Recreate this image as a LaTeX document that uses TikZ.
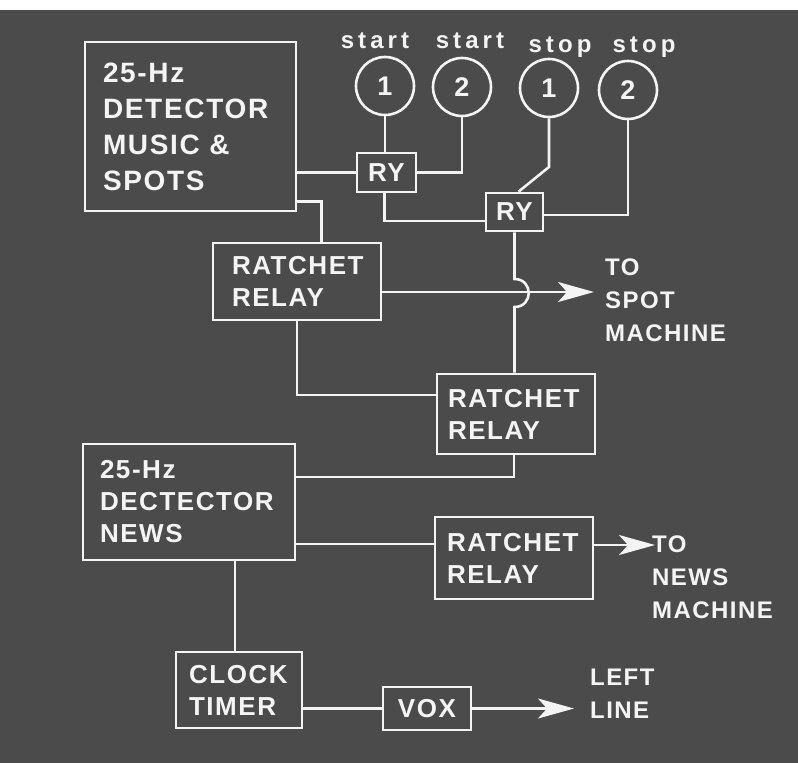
\documentclass[tikz,border=0pt]{standalone}
\usepackage{fontspec}
\setmainfont{Liberation Sans}[LetterSpace=6]
\newfontfamily\lowfont{Liberation Sans}[LetterSpace=17]
\usetikzlibrary{arrows.meta,calc}
\definecolor{bg}{HTML}{4B4B4B}
\definecolor{fg}{HTML}{F4F4F4}
\begin{document}
\begin{tikzpicture}[x=1pt,y=-1pt,
  wire/.style={draw=fg,line width=2.6pt},
  box/.style={draw=fg,line width=2.6pt,align=left,inner ysep=0pt,text=fg,
    font=\bfseries\fontsize{26}{32}\selectfont},
  rybox/.style={draw=fg,line width=2.6pt,inner sep=0pt,text=fg,
    font=\bfseries\fontsize{26}{32}\selectfont},
  knob/.style={draw=fg,line width=2.6pt,circle,minimum size=58pt,inner sep=0pt,text=fg,
    font=\bfseries\fontsize{27}{32}\selectfont},
  toplabel/.style={text=fg,anchor=base,font=\lowfont\bfseries\fontsize{24}{28}\selectfont},
  outlabel/.style={text=fg,align=left,anchor=west,inner sep=0pt,
    font=\bfseries\fontsize{24}{33}\selectfont},
  arr/.style={wire,-{Stealth[length=36pt,width=20pt,inset=9pt]}}]
\useasboundingbox (0,0) rectangle (798,763);
\fill[white] (0,0) rectangle (798,763);
\fill[bg] (0,10) rectangle (798,763);

% boxes
\node[box,font=\bfseries\fontsize{28}{36}\selectfont,inner xsep=18pt,text width=175pt,minimum height=169pt] (det1) at (190.5,126.5) {25-Hz\\DETECTOR\\MUSIC \&\\SPOTS};
\node[rybox,minimum width=59pt,minimum height=39pt] (ry1) at (386.5,172.5) {RY};
\node[rybox,minimum width=57pt,minimum height=38pt] (ry2) at (514.5,212) {RY};
\node[box,inner xsep=19pt,text width=130pt,minimum height=77pt] (rr1) at (297,281.5) {RATCHET\\RELAY};
\node[box,inner xsep=11pt,text width=136pt,minimum height=80pt] (rr2) at (516,414) {RATCHET\\RELAY};
\node[box,inner xsep=17pt,text width=178pt,minimum height=116pt] (det2) at (189,502) {25-Hz\\DECTECTOR\\NEWS};
\node[box,inner xsep=12pt,text width=134pt,minimum height=82pt] (rr3) at (514,558) {RATCHET\\RELAY};
\node[box,inner xsep=13pt,text width=100pt,minimum height=76pt] (clock) at (239,690) {CLOCK\\TIMER};
\node[rybox,minimum width=88pt,minimum height=43pt] (vox) at (427,708.5) {VOX};

% start/stop buttons
\node[knob] (c1) at (385,86) {1};
\node[knob] (c2) at (462,87) {2};
\node[knob] (c3) at (549,88) {1};
\node[knob] (c4) at (628,90) {2};
\node[toplabel] (l1) at (375,48) {start};
\node[toplabel] (l2) at (470,48) {start};
\node[toplabel] (l3) at (560,52) {stop};
\node[toplabel] (l4) at (644,52) {stop};

% output labels
\node[outlabel,anchor=north west] (spot) at (605,259) {TO\\SPOT\\MACHINE};
\node[outlabel,anchor=north west] (news) at (652,536) {TO\\NEWS\\MACHINE};
\node[outlabel,anchor=north west] (left) at (590,669) {LEFT\\LINE};

\coordinate (c3bend) at (549,167);
\coordinate (j1) at (514.5,279);
\coordinate (j2) at (514.5,307);
\coordinate (spottip) at (594,292);
\coordinate (newstip) at (655,545);
\coordinate (lefttip) at (574,708.5);
\coordinate (cj) at ($(clock.north)+(-4,0)$);

% wires
\draw[wire] (c1.south) -- (c1.south |- ry1.north);
\draw[wire] (c2.south) |- (ry1.east);
\draw[wire] (det1.east |- ry1.west) -- (ry1.west);
\draw[wire] (c3.south) -- (c3bend) -- ($(ry2.north)+(4,0)$);
\draw[wire] (c4.south) |- ($(ry2.east)+(0,3)$);
\draw[wire] ($(ry1.south)+(-2,0)$) |- ($(ry2.west)+(0,9)$);
\draw[wire] ($(det1.south east)+(0,-11)$) -| ($(rr1.north west)+(110,0)$);
\draw[arr] ($(rr1.east)+(0,10.5)$) -- (spottip);
\draw[wire] (ry2.south) -- (j1) .. controls +(19,0) and +(19,0) .. (j2) -- (j2 |- rr2.north);
\draw[wire] (rr1.south) |- ($(rr2.west)+(0,-19)$);
\draw[wire] ($(det2.east)+(0,-25)$) -| ($(rr2.south)+(-2,0)$);
\draw[wire] ($(det2.east)+(0,42)$) -- ($(rr3.west)+(0,-14)$);
\draw[arr] ($(rr3.east)+(0,-13)$) -- (newstip);
\draw[wire] (cj) -- (cj |- det2.south);
\draw[wire] (clock.east |- vox.west) -- (vox.west);
\draw[arr] (vox.east) -- (lefttip);
\end{tikzpicture}
\end{document}
